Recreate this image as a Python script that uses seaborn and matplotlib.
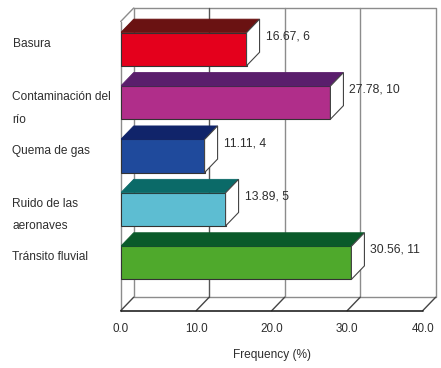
import matplotlib
matplotlib.use("Agg")
import matplotlib.pyplot as plt
import pandas as pd
import seaborn as sns
from matplotlib.patches import Polygon

categories = ["Basura", "Contaminación del\nrío", "Quema de gas", "Ruido de las\naeronaves", "Tránsito fluvial"]
percent = [16.67, 27.78, 11.11, 13.89, 30.56]
counts = [6, 10, 4, 5, 11]
front_colors = ["#e4001c", "#b02e8a", "#1f4a9c", "#5dbdd2", "#4fa92c"]
top_colors = ["#6a1212", "#5a1e6c", "#10246a", "#0b6a68", "#0a5a2a"]
x_ticks = [0, 10, 20, 30, 40]

W, H = 441, 368
TEXT = "#2e2e2e"
sns.set_theme(style="white", rc={"font.family": "Liberation Sans"})
fig = plt.figure(figsize=(W / 100, H / 100), dpi=100)
left, right, top, bottom = 120.7, 435.0, 8.0, 310.7
ax = fig.add_axes([left / W, 1 - bottom / H, (right - left) / W, (bottom - top) / H])

px_per_x, px_per_cat = 7.55, 53.4
cat0_y = 49.2
ax.set_xlim(0, (right - left) / px_per_x)
depth_x, depth_y = 13 / px_per_x, 13.5 / px_per_cat

df = pd.DataFrame({"cat": categories, "pct": percent})
sns.barplot(data=df, x="pct", y="cat", hue="cat", palette=front_colors, legend=False,
            width=0.62, saturation=1, ax=ax, edgecolor="#333333", linewidth=0.8, zorder=5)
ax.set_ylim((bottom - cat0_y) / px_per_cat, (top - cat0_y) / px_per_cat)
sns.despine(ax=ax, left=True, bottom=True, right=True, top=True)

y_floor_front, x_end = ax.get_ylim()[0], 40
y_floor_back = y_floor_front - depth_y
y_ceiling = ax.get_ylim()[1]
wall = "#8c8c8c"
line = dict(clip_on=False, zorder=1)

# Back wall, left wall and floor of the 3D box
ax.plot([depth_x, x_end + depth_x, x_end + depth_x, depth_x, depth_x],
        [y_ceiling, y_ceiling, y_floor_back, y_floor_back, y_ceiling], color=wall, lw=1.0, **line)
ax.plot([0, 0], [y_floor_front, y_ceiling + depth_y], color=wall, lw=1.0, **line)
ax.plot([0, depth_x], [y_ceiling + depth_y, y_ceiling], color=wall, lw=1.0, **line)
for t in x_ticks:
    if 0 < t < x_end:
        ax.plot([t + depth_x] * 2, [y_ceiling, y_floor_back],
                color="#555555" if t == 10 else wall, lw=1.0, **line)
    ax.plot([t, t + depth_x], [y_floor_front, y_floor_back], color="#444444", lw=1.0, **line)
ax.plot([0, x_end], [y_floor_front] * 2, color="#222222", lw=1.2, **line)

# Extruded top and end faces for every bar
for patch, value, n, col in zip(ax.patches, percent, counts, top_colors):
    y0, y1 = patch.get_y(), patch.get_y() + patch.get_height()
    ax.add_patch(Polygon([(0, y0), (depth_x, y0 - depth_y), (value + depth_x, y0 - depth_y), (value, y0)],
                         facecolor=col, edgecolor=col, lw=0.6, zorder=5))
    ax.add_patch(Polygon([(value, y0), (value + depth_x, y0 - depth_y),
                          (value + depth_x, y1 - depth_y), (value, y1)],
                         facecolor="white", edgecolor="#444444", lw=0.8, zorder=5))
    ax.text(value + 19 / px_per_x, (y0 + y1) / 2 - 13 / px_per_cat, f"{value:.2f}, {n}",
            fontsize=8.7, color=TEXT, va="center", ha="left", zorder=6)

ax.set_xticks(x_ticks)
ax.set_xticklabels([f"{t:.1f}" for t in x_ticks], fontsize=8.4, color=TEXT)
ax.tick_params(axis="x", length=0, pad=9)
ax.set_xlabel("Frequency (%)", fontsize=8.6, color=TEXT)
ax.xaxis.set_label_coords((272 - left) / (right - left), -(355 - bottom) / (bottom - top))
ax.xaxis.label.set_va("center")

ax.set_ylabel("")
ax.set_yticks(range(len(categories)))
ax.set_yticklabels([])
ax.tick_params(axis="y", length=0)
# Category names sit in a left-aligned column, first line slightly above each bar centre
for i, name in enumerate(categories):
    fig.text(12.5 / W, 1 - (38 + i * 53.3) / H, name, fontsize=8.6, color=TEXT,
             ha="left", va="top", linespacing=2.15)

fig.savefig("out.png", dpi=100)
